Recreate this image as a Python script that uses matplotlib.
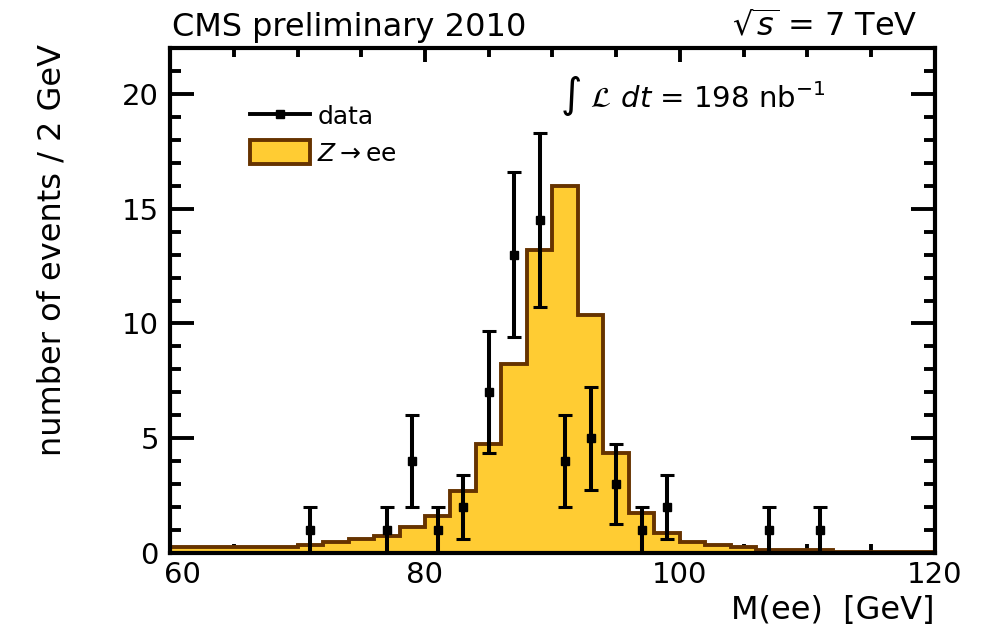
#!/bin/env python3
# -*- coding: utf-8 -*-

import numpy as np
import matplotlib as mpl
mpl.use("Agg")
import matplotlib.pyplot as plt
import matplotlib.transforms as mtransforms
from matplotlib.lines import Line2D
from matplotlib.patches import Patch
from matplotlib.ticker import MultipleLocator

# %%
# Z->ee simulation, events per 2 GeV bin from 60 to 120 GeV
mass_lo, mass_hi, bin_width = 60, 120, 2
mc_counts = [0.25, 0.25, 0.25, 0.25, 0.25,
             0.35, 0.48, 0.61, 0.73, 1.12,
             1.60, 2.71, 4.73, 8.22, 13.2,
             16.0, 10.37, 4.36, 1.76, 0.86,
             0.48, 0.35, 0.25, 0.14, 0.14,
             0.14, 0.03, 0.03, 0.03, 0.03]

# data points (bin centres), counts and errors
data_mass = [71, 77, 79, 81, 83, 85, 87, 89, 91, 93, 95, 97, 99, 107, 111]
data_counts = [1, 1, 4, 1, 2, 7, 13, 14.5, 4, 5, 3, 1, 2, 1, 1]
data_err = [1, 1, 2, 1, 1.41, 2.65, 3.6, 3.8, 2, 2.24, 1.73, 1, 1.41, 1, 1]

fill_col = '#FFCC33'
edge_col = '#663300'

# %%
plt.rcParams['font.family'] = ['DejaVu Sans']

fig = plt.figure(figsize=(9.95, 6.27), dpi=100)
ax = fig.add_axes([170/995, 1 - 553/627, 765/995, 505/627])

edges = np.arange(mass_lo, mass_hi + bin_width, bin_width)
ax.stairs(mc_counts, edges, fill=True, facecolor=fill_col,
          edgecolor=edge_col, linewidth=2.8, zorder=2)

ax.errorbar(data_mass, data_counts, yerr=data_err, fmt='s', color='k',
            ms=6, elinewidth=2.9, capsize=5, capthick=2.2, zorder=3)

ax.set_xlim(mass_lo, mass_hi)
ax.set_ylim(0, 22)

ax.xaxis.set_major_locator(MultipleLocator(20))
ax.xaxis.set_minor_locator(MultipleLocator(5))
ax.yaxis.set_major_locator(MultipleLocator(5))
ax.yaxis.set_minor_locator(MultipleLocator(1))

for s in ax.spines.values():
    s.set_linewidth(3)
    s.set_zorder(5)

ax.tick_params(which='both', direction='in', top=True, right=True,
               width=2.8, labelsize=21)
ax.tick_params(axis='x', which='major', length=10, pad=6)
ax.tick_params(axis='x', which='minor', length=6.5)
ax.tick_params(axis='y', which='major', length=17, pad=8)
ax.tick_params(axis='y', which='minor', length=8)

# ROOT-style: the "60" label sits a bit right, clear of the "0"
fig.canvas.draw()
for lab in ax.get_xticklabels():
    if abs(lab.get_position()[0] - mass_lo) < 1e-6:
        lab.set_transform(lab.get_transform() + mtransforms.ScaledTranslation(
            12/100, 0, fig.dpi_scale_trans))

# axis titles
fig.text(935/995, 0.002, "M(ee)  [GeV]", ha='right', va='bottom',
         fontsize=23)
fig.text(52/995, 1 - 44/627, "number of events / 2 GeV", rotation=90,
         ha='center', va='top', fontsize=23)

# header
fig.text(172/995, 1 - 36/627, "CMS preliminary 2010", ha='left',
         va='baseline', fontsize=23)
fig.text(918/995, 1 - 36/627, r"$\sqrt{s}$ = 7 TeV", ha='right',
         va='baseline', fontsize=23)

ax.text(0.51, 0.905, r"$\int\ \mathcal{L}\ dt$ = 198 nb$^{-1}$",
        transform=ax.transAxes, ha='left', va='center', fontsize=21)

handles = [Line2D([], [], color='k', marker='s', ms=6, lw=2.8),
           Patch(facecolor=fill_col, edgecolor=edge_col, linewidth=2.8)]
ax.legend(handles, ['data', r'$Z\rightarrow$ee'], loc='upper left',
          bbox_to_anchor=(0.075, 0.935), frameon=False, fontsize=18,
          handlelength=2.4, handleheight=1.1, handletextpad=0.3,
          labelspacing=0.45)

fig.savefig("out.png", dpi=100)
